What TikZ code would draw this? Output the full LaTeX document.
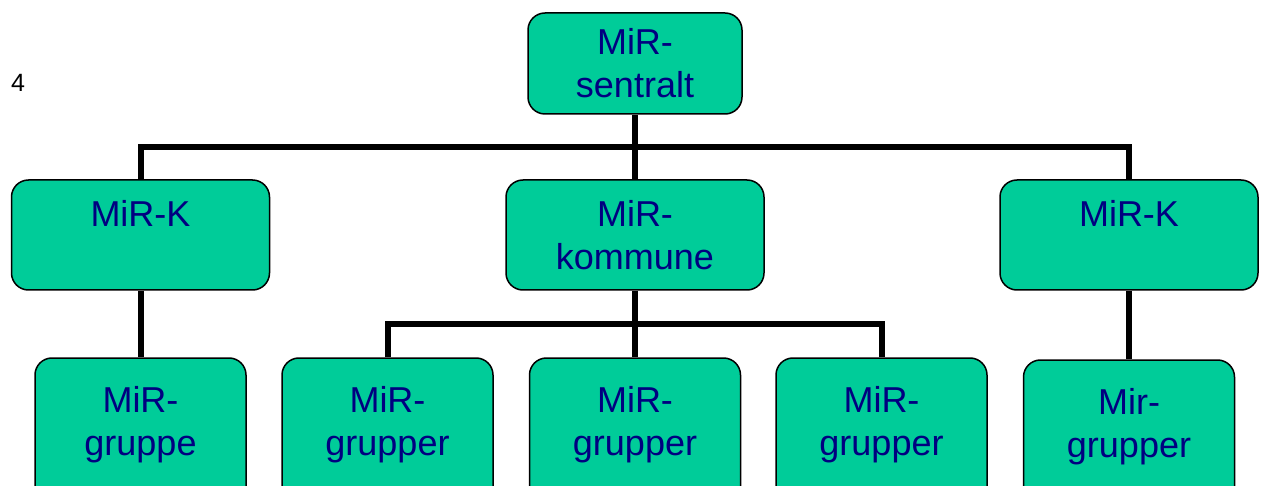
\documentclass[tikz,border=0pt]{standalone}
\usepackage{fontspec}
\setmainfont{Liberation Sans}
\usepackage{xcolor}
\definecolor{boxgreen}{HTML}{00CC99}
\definecolor{boxtext}{HTML}{000080}

\begin{document}
\begin{tikzpicture}[x=1pt,y=-1pt,
  unit/.style={draw=black,line width=1.5pt,fill=boxgreen,rounded corners=17pt,
    inner sep=0pt,align=center,text=boxtext,font=\fontsize{36}{43}\selectfont},
  top/.style={unit,minimum width=214pt,minimum height=101pt},
  mid/.style={unit,minimum width=258pt,minimum height=110pt},
  low/.style={unit,minimum width=211pt,minimum height=168pt},
  link/.style={line width=6pt,black,line join=miter}]
\useasboundingbox (0,0) rectangle (1261,486);

\node[font=\fontsize{25}{30}\selectfont,anchor=base] (page) at (18,92) {4};

\node[top] (sentralt) at (635,63.5) {MiR-\\sentralt};

\node[mid] (kleft) at (140.5,235) {MiR-K\\\mbox{}};
\node[mid] (kommune) at (635,235) {MiR-\\kommune};
\node[mid] (kright) at (1129,235) {MiR-K\\\mbox{}};

% bottom row runs off the page
\node[low] (gruppe) at (140.5,442) {MiR-\\gruppe\\\mbox{}};
\node[low] (grupperA) at (387.5,442) {MiR-\\grupper\\\mbox{}};
\node[low] (grupperB) at (635,442) {MiR-\\grupper\\\mbox{}};
\node[low] (grupperC) at (881.5,442) {MiR-\\grupper\\\mbox{}};
\node[low] (grupperD) at (1129,444) {Mir-\\grupper\\\mbox{}};

\coordinate (bartop) at (635,147.5);
\coordinate (barmid) at (635,324.5);

\draw[link] (sentralt) -- (kommune);
\draw[link] (kleft) |- (bartop) -| (kright);
\draw[link] (kleft) -- (gruppe);
\draw[link] (kright) -- (grupperD);
\draw[link] (kommune) -- (grupperB);
\draw[link] (grupperA) |- (barmid) -| (grupperC);
\end{tikzpicture}
\end{document}
